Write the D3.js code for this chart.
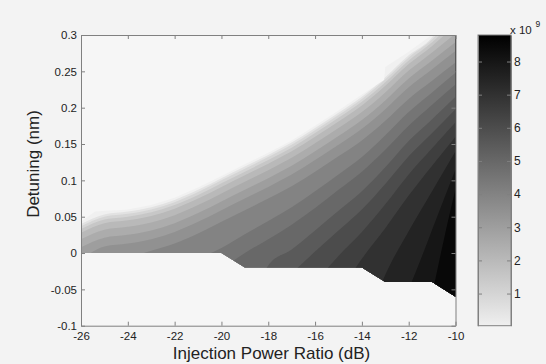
<!DOCTYPE html>
<html>
<head>
<meta charset="utf-8">
<script src="https://cdn.jsdelivr.net/npm/d3@7"></script>
<style>
  body { margin: 0; background: #f3f3f3; }
  text { font-family: "Liberation Sans", Arial, sans-serif; fill: #222; }
  .axis .domain, .axis line { stroke: #808080; }
</style>
</head>
<body>
<div id="chart-container"></div>
<script>
// data (x in dB, y in nm, values in 1e9)
var xTicks = [-26, -24, -22, -20, -18, -16, -14, -12, -10];
var xTickLabels = ["-26", "-24", "-22", "-20", "-18", "-16", "-14", "-12", "-10"];
var yTicks = [-0.1, -0.05, 0, 0.05, 0.1, 0.15, 0.2, 0.25, 0.3];
var yTickLabels = ["-0.1", "-0.05", "0", "0.05", "0.1", "0.15", "0.2", "0.25", "0.3"];
var cbTicks = [1, 2, 3, 4, 5, 6, 7, 8];
var cbTickLabels = ["1", "2", "3", "4", "5", "6", "7", "8"];

// edge of the locked region
var upperEdge = [[-26, 0.043], [-25.4, 0.057], [-24, 0.060], [-23, 0.066], [-22, 0.076], [-21, 0.090],
  [-20, 0.106], [-19, 0.122], [-18, 0.138], [-17, 0.155], [-16, 0.175], [-15, 0.196], [-14, 0.218],
  [-13.05, 0.238], [-13, 0.256], [-12, 0.277], [-11.02, 0.3], [-10, 0.3]];
var lowerEdge = [[-10, -0.06], [-11, -0.04], [-13, -0.04], [-14, -0.02], [-19, -0.02], [-20, 0], [-26, 0]];

// contour levels and the line of each one
var levels = [0.5, 1, 1.5, 2, 2.5, 3, 3.5, 4, 4.5, 5, 5.5, 6, 6.5, 7, 7.5, 8, 8.5];
var lv05 = [[-26, 0.040], [-25, 0.053], [-24, 0.057], [-23, 0.063], [-22, 0.073], [-21, 0.087], [-20, 0.103],
  [-19, 0.119], [-18, 0.135], [-17, 0.152], [-16, 0.172], [-15, 0.193], [-14, 0.215], [-13, 0.242],
  [-12, 0.272], [-11, 0.297], [-10.88, 0.302]];
var lv10 = [[-26, 0.037], [-25, 0.050], [-24, 0.054], [-23, 0.060], [-22, 0.070], [-21, 0.084], [-20, 0.100],
  [-19, 0.116], [-18, 0.132], [-17, 0.149], [-16, 0.169], [-15, 0.190], [-14, 0.212], [-13, 0.239],
  [-12, 0.269], [-11, 0.294], [-10.76, 0.302]];
var lv15 = [[-26, 0.033], [-25, 0.046], [-24, 0.050], [-23, 0.056], [-22, 0.066], [-21, 0.080], [-20, 0.096],
  [-19, 0.112], [-18, 0.128], [-17, 0.145], [-16, 0.165], [-15, 0.186], [-14, 0.208], [-13, 0.235],
  [-12, 0.265], [-11, 0.290], [-10.6, 0.302]];
var lv20 = [[-26, 0.028], [-25, 0.041], [-24, 0.045], [-23, 0.051], [-22, 0.061], [-21, 0.075], [-20, 0.091],
  [-19, 0.107], [-18, 0.123], [-17, 0.140], [-16, 0.160], [-15, 0.181], [-14, 0.203], [-13, 0.230],
  [-12, 0.260], [-11, 0.285], [-10.4, 0.302]];
var lv25 = [[-26, 0.019], [-25, 0.032], [-24, 0.036], [-23, 0.042], [-22, 0.052], [-21, 0.066], [-20, 0.082],
  [-19, 0.098], [-18, 0.114], [-17, 0.131], [-16, 0.151], [-15, 0.172], [-14, 0.194], [-13, 0.221],
  [-12, 0.251], [-11, 0.276], [-10, 0.302]];
var lv30 = [[-26, 0.008], [-25, 0.021], [-24, 0.025], [-23, 0.031], [-22, 0.041], [-21, 0.055], [-20, 0.071],
  [-19, 0.087], [-18, 0.103], [-17, 0.120], [-16, 0.140], [-15, 0.161], [-14, 0.183], [-13, 0.210],
  [-12, 0.240], [-11, 0.265], [-10, 0.290]];
var lv35 = [[-25.7, -0.002], [-25, 0.009], [-24, 0.013], [-23, 0.019], [-22, 0.029], [-21, 0.043], [-20, 0.059],
  [-19, 0.075], [-18, 0.091], [-17, 0.108], [-16, 0.128], [-15, 0.149], [-14, 0.171], [-13, 0.198],
  [-12, 0.228], [-11, 0.253], [-10, 0.278]];
var lv40 = [[-23.5, -0.002], [-23, 0.003], [-22, 0.013], [-21, 0.027], [-20, 0.043], [-19, 0.059], [-18, 0.075],
  [-17, 0.092], [-16, 0.112], [-15, 0.133], [-14, 0.155], [-13, 0.182], [-12, 0.212], [-11, 0.237], [-10, 0.262]];
var lv45 = [[-20.6, -0.002], [-20, 0.007], [-19, 0.026], [-18, 0.044], [-17, 0.063], [-16, 0.085], [-15, 0.108],
  [-14, 0.132], [-13, 0.162], [-12, 0.194], [-11, 0.221], [-10, 0.248]];
var lv50 = [[-19.55, -0.012], [-19, 0.000], [-18, 0.019], [-17, 0.039], [-16, 0.062], [-15, 0.087], [-14, 0.112],
  [-13, 0.142], [-12, 0.175], [-11, 0.204], [-10, 0.232]];
var lv55 = [[-18.1, -0.022], [-18, -0.017], [-17, 0.005], [-16, 0.031], [-15, 0.058], [-14, 0.085], [-13, 0.118],
  [-12, 0.154], [-11, 0.184], [-10, 0.215]];
var lv60 = [[-16.8, -0.022], [-16, 0.002], [-15, 0.031], [-14, 0.060], [-13, 0.095], [-12, 0.133], [-11, 0.165], [-10, 0.198]];
var lv65 = [[-15.5, -0.022], [-15, -0.004], [-14, 0.029], [-13, 0.067], [-12, 0.108], [-11, 0.144], [-10, 0.180]];
var lv70 = [[-14.3, -0.022], [-14, -0.008], [-13, 0.034], [-12, 0.079], [-11, 0.120], [-10, 0.160]];
var lv75 = [[-13.15, -0.041], [-13, -0.030], [-12, 0.030], [-11, 0.085], [-10, 0.140]];
var lv80 = [[-11.9, -0.042], [-11.5, -0.010], [-11, 0.032], [-10, 0.115]];
var lv85 = [[-10.9, -0.042], [-10.5, 0.018], [-10, 0.088]];
var levelLines = [lv05, lv10, lv15, lv20, lv25, lv30, lv35, lv40, lv45, lv50, lv55, lv60, lv65, lv70, lv75, lv80, lv85];

var svgWidth = 546;
var svgHeight = 364;
var margin = { top: 35, left: 81 };
var width = 374.5;
var height = 290.7;

var svg = d3.select("#chart-container")
    .append("svg")
    .attr("width", svgWidth)
    .attr("height", svgHeight);

var g = svg.append("g")
    .attr("transform", "translate(" + margin.left + "," + margin.top + ")");

var x = d3.scaleLinear().domain([-26, -10]).range([0, width]);
var y = d3.scaleLinear().domain([-0.1, 0.3]).range([height, 0]);
var color = d3.scaleLinear().domain([0, 8.8]).range(["#f0f0f0", "#000000"]).clamp(true);

// plot background
g.append("rect").attr("width", width).attr("height", height).style("fill", "#f6f6f6");

// clip to the locked region
var edgeLine = d3.line().x(function(d) { return x(d[0]); }).y(function(d) { return y(d[1]); });
var domainPts = upperEdge.concat(lowerEdge);
svg.append("defs").append("clipPath").attr("id", "domain")
    .append("path").attr("d", edgeLine(domainPts) + "Z");

g.append("path")
    .attr("d", edgeLine(domainPts) + "Z")
    .style("fill", color(0));

var curve = d3.line()
    .x(function(d) { return x(d[0]); })
    .y(function(d) { return y(d[1]); })
    .curve(d3.curveMonotoneX);

// region above each level = below/right of its line
function levelArea(pts) {
    var first = pts[0], last = pts[pts.length - 1];
    return curve(pts) +
        "L" + x(last[0]) + "," + y(0.6) +
        "L" + x(0) + "," + y(0.6) +
        "L" + x(0) + "," + y(-0.3) +
        "L" + x(first[0]) + "," + y(-0.3) + "Z";
}

g.append("g").attr("clip-path", "url(#domain)")
    .selectAll(".band")
    .data(levelLines)
    .enter().append("path")
    .attr("class", "band")
    .attr("d", levelArea)
    .style("fill", function(d, i) { return color(levels[i]); });

// axes (ticks inside, box all round)
g.append("g").attr("class", "axis")
    .attr("transform", "translate(0," + height + ")")
    .call(d3.axisBottom(x).tickValues(xTicks)
        .tickFormat(function(d, i) { return xTickLabels[i]; })
        .tickSizeInner(-4).tickSizeOuter(0).tickPadding(6));
g.append("g").attr("class", "axis")
    .call(d3.axisLeft(y).tickValues(yTicks)
        .tickFormat(function(d, i) { return yTickLabels[i]; })
        .tickSizeInner(-4).tickSizeOuter(0).tickPadding(4));
g.append("g").attr("class", "axis")
    .call(d3.axisTop(x).tickValues(xTicks).tickFormat("").tickSizeInner(-4).tickSizeOuter(0));
g.append("g").attr("class", "axis")
    .attr("transform", "translate(" + width + ",0)")
    .call(d3.axisRight(y).tickValues(yTicks).tickFormat("").tickSizeInner(-4).tickSizeOuter(0));
svg.selectAll(".axis text").style("font-size", "11.5px");

// axis titles
svg.append("text")
    .attr("x", 271.5).attr("y", 359)
    .attr("text-anchor", "middle")
    .style("font-size", "17px")
    .text("Injection Power Ratio (dB)");
svg.append("text")
    .attr("transform", "translate(39.3,164) rotate(-90)")
    .attr("text-anchor", "middle")
    .style("font-size", "17px")
    .text("Detuning (nm)");

// colorbar
var cbX = 478, cbW = 33;
var cy = d3.scaleLinear().domain([0.03, 8.8]).range([margin.top + height, margin.top]);
var grad = svg.select("defs").append("linearGradient")
    .attr("id", "cbgrad").attr("x1", 0).attr("y1", 1).attr("x2", 0).attr("y2", 0);
grad.append("stop").attr("offset", 0).attr("stop-color", color(0.03));
grad.append("stop").attr("offset", 1).attr("stop-color", color(8.8));
svg.append("rect")
    .attr("x", cbX).attr("y", margin.top)
    .attr("width", cbW).attr("height", height)
    .style("fill", "url(#cbgrad)")
    .style("stroke", "#808080");
svg.append("g").attr("class", "axis")
    .attr("transform", "translate(" + (cbX + cbW) + ",0)")
    .call(d3.axisRight(cy).tickValues(cbTicks)
        .tickFormat(function(d, i) { return cbTickLabels[i]; })
        .tickSizeInner(-4).tickSizeOuter(0).tickPadding(3))
    .selectAll("text").style("font-size", "12px");
svg.append("g").attr("class", "axis")
    .attr("transform", "translate(" + cbX + ",0)")
    .call(d3.axisLeft(cy).tickValues(cbTicks).tickFormat("").tickSizeInner(-4).tickSizeOuter(0));
svg.selectAll(".axis .domain").style("stroke", "#808080");

svg.append("text").attr("x", 510).attr("y", 33.5).style("font-size", "11.5px").text("x 10");
svg.append("text").attr("x", 535.5).attr("y", 27).style("font-size", "8.5px").text("9");
</script>
</body>
</html>
